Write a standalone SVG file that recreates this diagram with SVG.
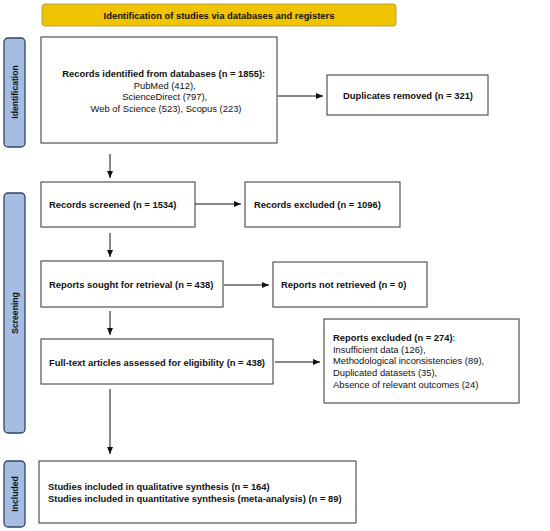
<svg xmlns="http://www.w3.org/2000/svg" width="550" height="531" viewBox="0 0 550 531">
<defs>
<marker id="ah" markerWidth="8" markerHeight="8" refX="7" refY="4" orient="auto" markerUnits="userSpaceOnUse">
<path d="M0,1 L7,4 L0,7 Z" fill="#111"/>
</marker>
<style>
.box{fill:#fff;stroke:#333;stroke-width:1}
.side{fill:#a5bde3;stroke:#34445f;stroke-width:1.3}
.hdr{fill:#f0c300;stroke:#b9a23a;stroke-width:1}
.t{font-family:"Liberation Sans",Arial,sans-serif;font-size:9.4px;fill:#111}
.b{font-weight:bold}
.sl{font-family:"Liberation Sans",Arial,sans-serif;font-size:8.6px;font-weight:bold;fill:#111}
.c{stroke:#111;stroke-width:1;fill:none;marker-end:url(#ah)}
</style>
</defs>
<rect width="550" height="531" fill="#fff"/>

<g id="header">
<rect class="hdr" x="42" y="4" width="354" height="22" rx="3"/>
<text class="t b" x="219" y="18.5" text-anchor="middle">Identification of studies via databases and registers</text>
</g>

<g id="side-identification">
<rect class="side" x="4" y="38" width="21" height="109" rx="4"/>
<text class="sl" transform="translate(18,92) rotate(-90)" text-anchor="middle">Identification</text>
</g>
<g id="side-screening">
<rect class="side" x="4" y="193" width="21" height="240" rx="4"/>
<text class="sl" transform="translate(18,313) rotate(-90)" text-anchor="middle">Screening</text>
</g>
<g id="side-included">
<rect class="side" x="4" y="461" width="21" height="66" rx="4"/>
<text class="sl" transform="translate(18,494) rotate(-90)" text-anchor="middle">Included</text>
</g>

<g id="records-identified">
<rect class="box" x="41" y="37" width="236" height="106"/>
<text class="t" text-anchor="middle">
<tspan class="b" x="165" y="77">Records identified from databases (n = 1855):</tspan>
<tspan x="166" y="88.5">PubMed (412),</tspan>
<tspan x="166" y="100">ScienceDirect (797),</tspan>
<tspan x="166" y="111.5">Web of Science (523), Scopus (223)</tspan>
</text>
</g>

<g id="duplicates">
<rect class="box" x="327" y="75" width="161" height="40"/>
<text class="t b" x="408" y="99" text-anchor="middle">Duplicates removed (n = 321)</text>
</g>

<g id="records-screened">
<rect class="box" x="41" y="182" width="154" height="45"/>
<text class="t b" x="49" y="208">Records screened (n = 1534)</text>
</g>

<g id="records-excluded">
<rect class="box" x="245" y="182" width="155" height="45"/>
<text class="t b" x="254" y="208">Records excluded (n = 1096)</text>
</g>

<g id="reports-sought">
<rect class="box" x="41" y="261" width="182" height="46"/>
<text class="t b" x="49" y="288">Reports sought for retrieval (n = 438)</text>
</g>

<g id="reports-not-retrieved">
<rect class="box" x="273" y="262" width="154" height="45"/>
<text class="t b" x="281" y="288">Reports not retrieved (n = 0)</text>
</g>

<g id="full-text">
<rect class="box" x="41" y="339" width="232" height="45"/>
<text class="t b" x="49" y="366">Full-text articles assessed for eligibility (n = 438)</text>
</g>

<g id="reports-excluded">
<rect class="box" x="324" y="319" width="195" height="84"/>
<text class="t">
<tspan x="333" y="341"><tspan class="b">Reports excluded (n = 274)</tspan>:</tspan>
<tspan x="333" y="352.7">Insufficient data (126),</tspan>
<tspan x="333" y="364.4">Methodological inconsistencies (89),</tspan>
<tspan x="333" y="376.1">Duplicated datasets (35),</tspan>
<tspan x="333" y="387.8">Absence of relevant outcomes (24)</tspan>
</text>
</g>

<g id="included">
<rect class="box" x="39" y="461" width="317" height="62"/>
<text class="t b">
<tspan x="48" y="490">Studies included in qualitative synthesis (n = 164)</tspan>
<tspan x="48" y="501.5">Studies included in quantitative synthesis (meta-analysis) (n = 89)</tspan>
</text>
</g>

<g id="connectors">
<line class="c" x1="278" y1="96" x2="323" y2="96"/>
<line class="c" x1="110" y1="154" x2="110" y2="178"/>
<line class="c" x1="195" y1="204" x2="241" y2="204"/>
<line class="c" x1="110" y1="233" x2="110" y2="257"/>
<line class="c" x1="224" y1="285" x2="269" y2="285"/>
<line class="c" x1="110" y1="311" x2="110" y2="335"/>
<line class="c" x1="275" y1="362" x2="320" y2="362"/>
<line class="c" x1="110" y1="389" x2="110" y2="454"/>
</g>
</svg>
